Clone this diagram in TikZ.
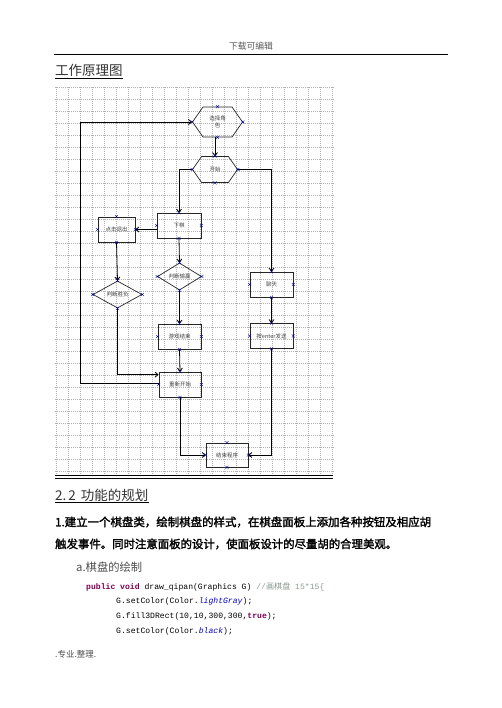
\documentclass[tikz,border=0pt]{standalone}
\usepackage{fontspec}
\setmainfont{Liberation Serif}
\setmonofont{Liberation Mono}
\newfontfamily\cjk{Noto Sans CJK SC}
\newfontfamily\cjkb[FakeBold=2]{Noto Sans CJK SC}
\usetikzlibrary{arrows.meta,shapes.geometric,shapes.symbols,shapes.misc}
\definecolor{kw}{HTML}{7F0055}
\definecolor{fld}{HTML}{0000C0}
\definecolor{cmt}{HTML}{8A9A90}
\definecolor{txt}{HTML}{333333}
\begin{document}
\begin{tikzpicture}[x=1pt,y=-1pt,
  gridline/.style={gray!60,line width=0.35pt,dash pattern=on 1pt off 1pt},
  fc/.style={draw=black!85,line width=0.7pt,inner sep=0pt,font=\cjk\fontsize{5.5}{6.5}\selectfont,text=black!75,align=center},
  boxn/.style={fc,rectangle,minimum width=43pt,minimum height=25pt},
  hexn/.style={fc,signal,signal to=east and west,signal pointer angle=110},
  diam/.style={fc,diamond,minimum width=46pt,minimum height=23pt},
  conn/.style={line width=0.8pt,black,-{Straight Barb[length=3pt,width=5pt]}},
  mk/.style={cross out,draw=blue!65!black,minimum size=2.6pt,inner sep=0pt,line width=0.45pt},
  plain/.style={inner sep=0pt,anchor=west}]
\useasboundingbox (0,0) rectangle (502,708);
% header
\node[inner sep=0pt,text=black!65,font=\cjk\fontsize{8.8}{10}\selectfont] (hd) at (251,46) {下载可编辑};
\draw[line width=0.9pt] (54,54) -- (448,54);
\node[plain,text=txt,font=\cjk\fontsize{13.5}{15}\selectfont] (t1) at (55,70) {工作原理图};
\draw[line width=1.5pt] (55,78.5) -- (123,78.5);
% grid
\foreach \x in {56,68,...,332} \draw[gridline] (\x,87) -- (\x,474);
\foreach \y in {87,99,...,471} \draw[gridline] (55,\y) -- (334,\y);
\draw[line width=0.8pt] (55,475) -- (333,475);
\draw[line width=0.8pt] (55,478) -- (333,478);
% flowchart nodes
\node[hexn,minimum width=50pt,minimum height=30pt] (xz) at (217.5,122) {选择角\\色};
\node[hexn,minimum width=45pt,minimum height=26pt] (kc) at (215,169.5) {开始};
\node[boxn,minimum width=44pt] (xq) at (179,225.5) {下棋};
\node[boxn,minimum width=37pt] (dj) at (116.5,229.5) {点击退出};
\node[diam,minimum width=44pt] (sy) at (179.5,276.5) {判断输赢};
\node[diam,minimum width=49pt] (sf) at (117.5,294.5) {判断胜负};
\node[boxn] (lt) at (271.5,284.5) {聊天};
\node[boxn] (fs) at (271.5,336) {按enter发送};
\node[boxn] (js) at (179.5,336.5) {游戏结束};
\node[boxn,minimum width=42pt] (cx) at (180,384.5) {重新开始};
\node[boxn,minimum width=42pt,minimum height=24pt] (jx) at (227,455) {结束程序};
\coordinate (lx) at (80,0);
% connectors
\draw[conn] (kc.north |- xz.south) -- (kc.north);
\draw[conn] (kc.west) -| (xq.north);
\draw[conn] (kc.east) -| (lt.north);
\draw[conn] (xq.west |- dj.east) -- (dj.east);
\draw[conn] (xq.south) -- (sy.north);
\draw[conn] (dj.south) -- (sf.north);
\draw[conn] (sy.south) -- (js.north);
\draw[conn] (js.south) -- (cx.north);
\draw[conn] (lt.south) -- (fs.north);
\draw[conn] (sf.south) |- ([yshift=-3pt]cx.north west);
\draw[conn] ([yshift=1.5pt]cx.west) -- ([yshift=1.5pt]cx.west -| lx) -- (lx |- xz.west) -- (xz.west);
\draw[conn] (cx.south) |- (jx.west);
\draw[conn] (fs.south) |- (jx.east);
% connection markers
\foreach \n in {xz,kc,xq,dj,sy,sf,lt,fs,js,cx,jx}
  \foreach \a in {north,south,east,west}
    \node[mk] (m-\n-\a) at (\n.\a) {};
% text below
\node[plain,text=txt,font=\cjk\fontsize{13.5}{15}\selectfont] (t2) at (55,495) {2.\hspace{2pt}2\hspace{2pt} 功能的规划};
\draw[line width=1.5pt] (55,502.5) -- (t2.east |- 0,502.5);
\node[plain,font=\cjkb\fontsize{11.45}{13}\selectfont] (p1) at (55,522) {1.建立一个棋盘类，绘制棋盘的样式，在棋盘面板上添加各种按钮及相应胡};
\node[plain,font=\cjkb\fontsize{11.4}{13}\selectfont] (p2) at (55,544) {触发事件。同时注意面板的设计，使面板设计的尽量胡的合理美观。};
\node[plain,text=black!70,font=\cjk\fontsize{11.3}{13}\selectfont] (p3) at (76,567) {a.棋盘的绘制};
\node[plain,font=\ttfamily\fontsize{8.1}{9}\selectfont] (c1) at (86,587) {\textcolor{kw}{\textbf{public void}} draw\_qipan(Graphics G) \textcolor{cmt}{//{\cjk\fontsize{8.1}{9}\selectfont 画棋盘} 15*15\{}};
\node[plain,font=\ttfamily\fontsize{8.1}{9}\selectfont] (c2) at (116,601) {G.setColor(Color.\textcolor{fld}{\textit{lightGray}});};
\node[plain,font=\ttfamily\fontsize{8.1}{9}\selectfont] (c3) at (116,616) {G.fill3DRect(10,10,300,300,\textcolor{kw}{\textbf{true}});};
\node[plain,font=\ttfamily\fontsize{8.1}{9}\selectfont] (c4) at (116,631) {G.setColor(Color.\textcolor{fld}{\textit{black}});};
\node[plain,text=black!70,font=\cjk\fontsize{8.5}{10}\selectfont] (ft) at (55,654) {.专业.整理.};
\end{tikzpicture}
\end{document}
